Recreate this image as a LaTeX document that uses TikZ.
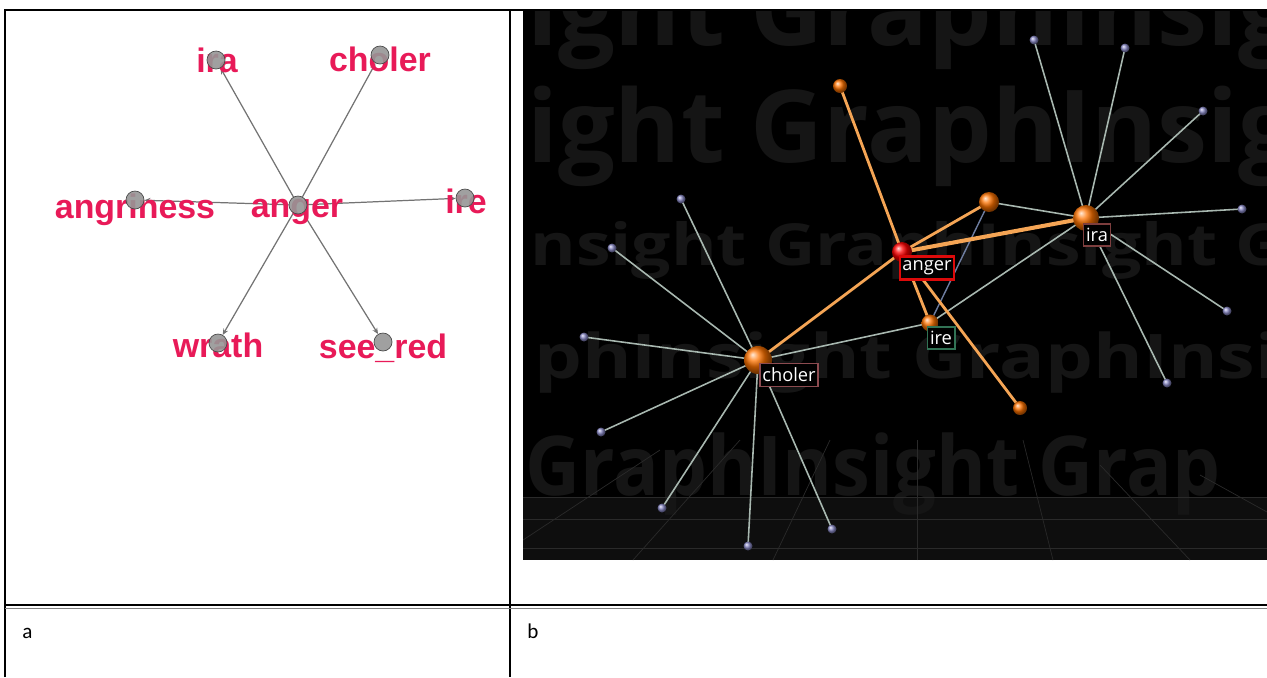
\documentclass[tikz,border=0pt]{standalone}
\usepackage{fontspec}
\setmainfont{Liberation Sans}
\newfontfamily\wmfont{Open Sans}
\newfontfamily\capfont{Carlito}
\usepackage{tikz}
\usetikzlibrary{arrows.meta}
\usepackage{xcolor}
\definecolor{pinkred}{RGB}{232,26,88}
\definecolor{nodegray}{RGB}{150,150,150}
\definecolor{linkgray}{RGB}{115,115,115}
\definecolor{wmgray}{RGB}{21,21,21}
\definecolor{floorgray}{RGB}{14,14,14}
\definecolor{floorline}{RGB}{42,42,42}
\definecolor{leafblue}{RGB}{135,135,195}
\definecolor{leafgray}{RGB}{168,184,176}
\definecolor{bluegray}{RGB}{110,125,160}
\definecolor{hotorange}{RGB}{245,165,85}
\definecolor{tagred}{RGB}{220,10,10}
\definecolor{tagbrown}{RGB}{125,62,62}
\definecolor{tagrose}{RGB}{140,75,80}
\definecolor{taggreen}{RGB}{50,115,85}
\pgfdeclarelayer{back}
\pgfdeclarelayer{edges}
\pgfsetlayers{back,edges,main}

\begin{document}
\begin{tikzpicture}[x=0.02cm, y=-0.02cm, >=Stealth,
  word/.style={anchor=base, inner sep=0pt, text=pinkred, font=\fontsize{19.3}{21}\selectfont\bfseries},
  dot/.style={circle, draw=gray!60!black, fill=nodegray, fill opacity=0.9, minimum size=0.36cm, inner sep=0pt},
  link/.style={draw=linkgray, line width=0.7pt, -{Stealth[length=3.5pt, width=3pt]}},
  wm/.style={anchor=base west, inner sep=0pt, text=wmgray},
  floor/.style={draw=floorline, line width=0.4pt},
  hub/.style={circle, shading=ball, ball color=orange!90!red, inner sep=0pt},
  leaf/.style={circle, shading=ball, ball color=leafblue, minimum size=0.18cm, inner sep=0pt},
  leafedge/.style={draw=leafgray, line width=0.9pt},
  hotedge/.style={draw=hotorange, line width=1.6pt},
  tag/.style={draw, fill=black, text=white, line width=1pt, inner xsep=1.5pt, inner ysep=2.5pt,
    font=\wmfont\fontsize{10.4}{11}\selectfont},
  celltext/.style={anchor=base west, inner sep=0pt, font=\capfont\fontsize{12}{14}\selectfont}]
  \useasboundingbox (0,0) rectangle (1267,677);

  % table
  \draw[line width=0.6pt] (5,677) -- (5,10) -- (1267,10);
  \draw[line width=0.6pt] (510,10) -- (510,677);
  \draw[line width=0.7pt] (5,605) -- (1267,605);
  \draw[line width=0.4pt, gray] (5,608) -- (1267,608);
  \node[celltext] (capa) at (22,638) {a};
  \node[celltext] (capb) at (527,638) {b};

  % a: star around anger
  \node[dot] (iradot) at (216,60) {};
  \node[dot] (cholerdot) at (380,55) {};
  \node[dot] (angrinessdot) at (135,200) {};
  \node[dot] (angerdot) at (298,205) {};
  \node[dot] (iredot) at (465,198) {};
  \node[dot] (wrathdot) at (218,343) {};
  \node[dot] (seereddot) at (383,342) {};
  \begin{pgfonlayer}{edges}
    \draw[link] (angerdot) -- (iradot);
    \draw[link] (angerdot) -- (cholerdot);
    \draw[link] (angerdot) -- (angrinessdot);
    \draw[link] (angerdot) -- (iredot);
    \draw[link] (angerdot) -- (wrathdot);
    \draw[link] (angerdot) -- (seereddot);
    \node[word] (iraword) at (217,72) {ira};
    \node[word] (cholerword) at (380,71) {choler};
    \node[word] (angrinessword) at (135,218) {angriness};
    \node[word] (angerword) at (297,217) {anger};
    \node[word] (ireword) at (466,213) {ire};
    \node[word] (wrathword) at (218,357) {wrath};
    \node[word] (seeredword) at (383,358) {see\_red};
  \end{pgfonlayer}

  % b: 3D view
  \begin{pgfonlayer}{back}
    \fill[black] (523,11) rectangle (1267,560);
    \begin{scope}
      \clip (523,11) rectangle (1267,560);
      \fill[floorgray] (523,497) rectangle (1267,560);
      \node[wm, font=\wmfont\bfseries\fontsize{57.3}{60}\selectfont] (wm1) at (527,45) {ight GraphInsig};
      \node[wm, font=\wmfont\bfseries\fontsize{57.3}{60}\selectfont] (wm2) at (527,162) {ight GraphInsig};
      \node[wm, font=\wmfont\bfseries\fontsize{33}{36}\selectfont] (wm3) at (530,265) {\scalebox{1.2}[1]{nsight GraphInsight G}};
      \node[wm, font=\wmfont\bfseries\fontsize{35}{38}\selectfont] (wm4) at (534,378) {\scalebox{1.23}[1]{phInsight GraphInsight}};
      \node[wm, font=\wmfont\bfseries\fontsize{47}{50}\selectfont] (wm5) at (525,495) {\scalebox{0.92}[1]{GraphInsight Grap}};
      \draw[floor] (523,497) -- (1267,497);
      \draw[floor] (523,519) -- (1267,519);
      \draw[floor] (523,548) -- (1267,548);
      \draw[floor] (523,540) -- (660,450);
      \draw[floor] (633,560) -- (740,440);
      \draw[floor] (773,560) -- (830,440);
      \draw[floor] (917,560) -- (917,440);
      \draw[floor] (1053,560) -- (1023,440);
      \draw[floor] (1190,560) -- (1100,465);
      \draw[floor] (1267,512) -- (1200,475);
    \end{scope}
  \end{pgfonlayer}

  \node[hub, ball color=red, minimum size=0.4cm] (anger) at (902,252) {};
  \node[hub, minimum size=0.52cm] (ira) at (1086,218) {};
  \node[hub, minimum size=0.56cm] (choler) at (758,360) {};
  \node[hub, minimum size=0.34cm] (ire) at (930,323) {};
  \node[hub, minimum size=0.28cm] (o1) at (840,86) {};
  \node[hub, minimum size=0.4cm] (o2) at (989,202) {};
  \node[hub, minimum size=0.28cm] (o3) at (1020,408) {};

  \node[leaf] (ira1) at (1034,40) {};
  \node[leaf] (ira2) at (1125,48) {};
  \node[leaf] (ira3) at (1203,111) {};
  \node[leaf] (ira4) at (1242,209) {};
  \node[leaf] (ira5) at (1227,311) {};
  \node[leaf] (ira6) at (1167,383) {};
  \node[leaf] (ch1) at (681,199) {};
  \node[leaf] (ch2) at (612,248) {};
  \node[leaf] (ch3) at (584,337) {};
  \node[leaf] (ch4) at (601,432) {};
  \node[leaf] (ch5) at (662,508) {};
  \node[leaf] (ch6) at (748,546) {};
  \node[leaf] (ch7) at (832,529) {};

  \begin{pgfonlayer}{edges}
    \draw[leafedge] (ira.center) -- (ira1.center);
    \draw[leafedge] (ira.center) -- (ira2.center);
    \draw[leafedge] (ira.center) -- (ira3.center);
    \draw[leafedge] (ira.center) -- (ira4.center);
    \draw[leafedge] (ira.center) -- (ira5.center);
    \draw[leafedge] (ira.center) -- (ira6.center);
    \draw[leafedge] (choler.center) -- (ch1.center);
    \draw[leafedge] (choler.center) -- (ch2.center);
    \draw[leafedge] (choler.center) -- (ch3.center);
    \draw[leafedge] (choler.center) -- (ch4.center);
    \draw[leafedge] (choler.center) -- (ch5.center);
    \draw[leafedge] (choler.center) -- (ch6.center);
    \draw[leafedge] (choler.center) -- (ch7.center);
    \draw[leafedge] (o2.center) -- (ira.center);
    \draw[leafedge] (ira.center) -- (ire.center);
    \draw[leafedge] (choler.center) -- (ire.center);
    \draw[draw=bluegray, line width=0.8pt] (o2.center) -- (ire.center);
    \draw[hotedge] (anger.center) -- (o1.center);
    \draw[hotedge] (anger.center) -- (o2.center);
    \draw[hotedge, line width=2.3pt] (anger.center) -- (ira.center);
    \draw[hotedge] (anger.center) -- (choler.center);
    \draw[hotedge] (anger.center) -- (ire.center);
    \draw[hotedge] (anger.center) -- (o3.center);
  \end{pgfonlayer}

  \node[tag, draw=tagred, line width=1.4pt] (angertag) at (927,268) {anger};
  \node[tag, draw=tagbrown] (iratag) at (1097,235) {ira};
  \node[tag, draw=tagrose] (cholertag) at (789,375) {choler};
  \node[tag, draw=taggreen] (iretag) at (941,338) {ire};
\end{tikzpicture}
\end{document}
